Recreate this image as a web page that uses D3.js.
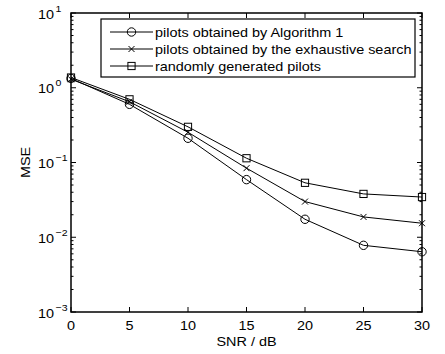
<!DOCTYPE html>
<html>
<head>
<meta charset="utf-8">
<script src="https://cdn.jsdelivr.net/npm/d3@7"></script>
<style>
  body { margin: 0; background: #fff; }
  svg { font-family: 'Liberation Sans', Arial, sans-serif; }
</style>
</head>
<body>
<div id="chart"></div>
<script>
// SNR values (dB)
const snr = [0, 5, 10, 15, 20, 25, 30];
// MSE
const algo1 = [1.33, 0.60, 0.211, 0.059, 0.0174, 0.0078, 0.0064];
const exhaustive = [1.30, 0.65, 0.254, 0.084, 0.030, 0.0187, 0.0154];
const randomPilots = [1.37, 0.70, 0.30, 0.114, 0.0535, 0.038, 0.0345];

const seriesNames = [
  'pilots obtained by Algorithm 1',
  'pilots obtained by the exhaustive search',
  'randomly generated pilots'
];
const xTicks = [0, 5, 10, 15, 20, 25, 30];
const yExponents = [-3, -2, -1, 0, 1];

const width = 445;
const height = 354;
const margin = {top: 13, right: 23, bottom: 42, left: 71};
const w = width - margin.left - margin.right;
const h = height - margin.top - margin.bottom;
const stretch = 1.11; // the original text is a bit wider than it is tall

const svg = d3.select('#chart').append('svg')
  .attr('width', width)
  .attr('height', height);

const g = svg.append('g')
  .attr('transform', `translate(${margin.left},${margin.top})`);

/* Scales */
const x = d3.scaleLinear().domain([0, 30]).range([0, w]);
const y = d3.scaleLog().domain([1e-3, 10]).range([h, 0]);

// text helper: places text at (tx, ty) stretched horizontally
function label(parent, tx, ty, str, size, anchor, rot) {
  return parent.append('text')
    .attr('transform', `translate(${tx},${ty})${rot ? ' rotate(' + rot + ')' : ''} scale(${stretch},1)`)
    .attr('text-anchor', anchor || 'start')
    .attr('font-size', size)
    .text(str);
}

/* Ticks (inward, mirrored) */
const minor = [];
for (let e = -3; e < 1; e++) {
  for (let k = 2; k <= 9; k++) minor.push(k * Math.pow(10, e));
}
const tickLen = 5;
const minorLen = 2.5;
const ticks = g.append('g').attr('stroke', '#000').attr('stroke-width', 1);

xTicks.forEach(t => {
  ticks.append('line').attr('x1', x(t)).attr('x2', x(t)).attr('y1', h).attr('y2', h - tickLen);
  ticks.append('line').attr('x1', x(t)).attr('x2', x(t)).attr('y1', 0).attr('y2', tickLen);
});
yExponents.forEach(e => {
  const v = Math.pow(10, e);
  ticks.append('line').attr('x1', 0).attr('x2', tickLen).attr('y1', y(v)).attr('y2', y(v));
  ticks.append('line').attr('x1', w).attr('x2', w - tickLen).attr('y1', y(v)).attr('y2', y(v));
});
minor.forEach(v => {
  ticks.append('line').attr('x1', 0).attr('x2', minorLen).attr('y1', y(v)).attr('y2', y(v));
  ticks.append('line').attr('x1', w).attr('x2', w - minorLen).attr('y1', y(v)).attr('y2', y(v));
});

/* Frame */
g.append('rect')
  .attr('x', 0).attr('y', 0)
  .attr('width', w).attr('height', h)
  .attr('fill', 'none')
  .attr('stroke', '#000')
  .attr('stroke-width', 1.5);

/* Tick labels */
xTicks.forEach(t => label(g, x(t), h + 17.5, t, 13, 'middle'));

yExponents.forEach(e => {
  const ty = y(Math.pow(10, e));
  label(g, -17, ty + 5.5, '10', 13, 'end');
  label(g, -15.5, ty - 1.5, e < 0 ? '\u2212' + (-e) : String(e), 9.5, 'start');
});

/* Axis titles */
label(g, w / 2, h + 34, 'SNR / dB', 13, 'middle');
label(g, -41, h / 2, 'MSE', 13, 'middle', -90);

/* Lines */
const series = [algo1, exhaustive, randomPilots];
const markers = ['circle', 'cross', 'square'];
const line = d3.line()
  .x((d, i) => x(snr[i]))
  .y(d => y(d));

function drawMarker(sel, type, cx, cy) {
  if (type === 'circle') {
    sel.append('circle').attr('cx', cx).attr('cy', cy).attr('r', 4.2)
      .attr('fill', 'none').attr('stroke', '#000').attr('stroke-width', 1);
  } else if (type === 'square') {
    sel.append('rect').attr('x', cx - 3.6).attr('y', cy - 3.6)
      .attr('width', 7.2).attr('height', 7.2)
      .attr('fill', 'none').attr('stroke', '#000').attr('stroke-width', 1);
  } else {
    const s = 3;
    sel.append('path')
      .attr('d', `M${cx - s},${cy - s}L${cx + s},${cy + s}M${cx - s},${cy + s}L${cx + s},${cy - s}`)
      .attr('stroke', '#000').attr('stroke-width', 1);
  }
}

series.forEach((vals, si) => {
  g.append('path')
    .attr('d', line(vals))
    .attr('fill', 'none')
    .attr('stroke', '#000')
    .attr('stroke-width', 1);
  const mg = g.append('g');
  vals.forEach((v, i) => drawMarker(mg, markers[si], x(snr[i]), y(v)));
});

/* Legend */
const lg = svg.append('g');
lg.append('rect')
  .attr('x', 101).attr('y', 19)
  .attr('width', 314).attr('height', 58)
  .attr('fill', '#fff')
  .attr('stroke', '#000')
  .attr('stroke-width', 1.2);

seriesNames.forEach((name, i) => {
  const ly = 32 + i * 17;
  lg.append('line')
    .attr('x1', 110).attr('x2', 153)
    .attr('y1', ly).attr('y2', ly)
    .attr('stroke', '#000').attr('stroke-width', 1);
  drawMarker(lg, markers[i], 131.5, ly);
  label(lg, 155, ly + 4.5, name, 13, 'start');
});
</script>
</body>
</html>
